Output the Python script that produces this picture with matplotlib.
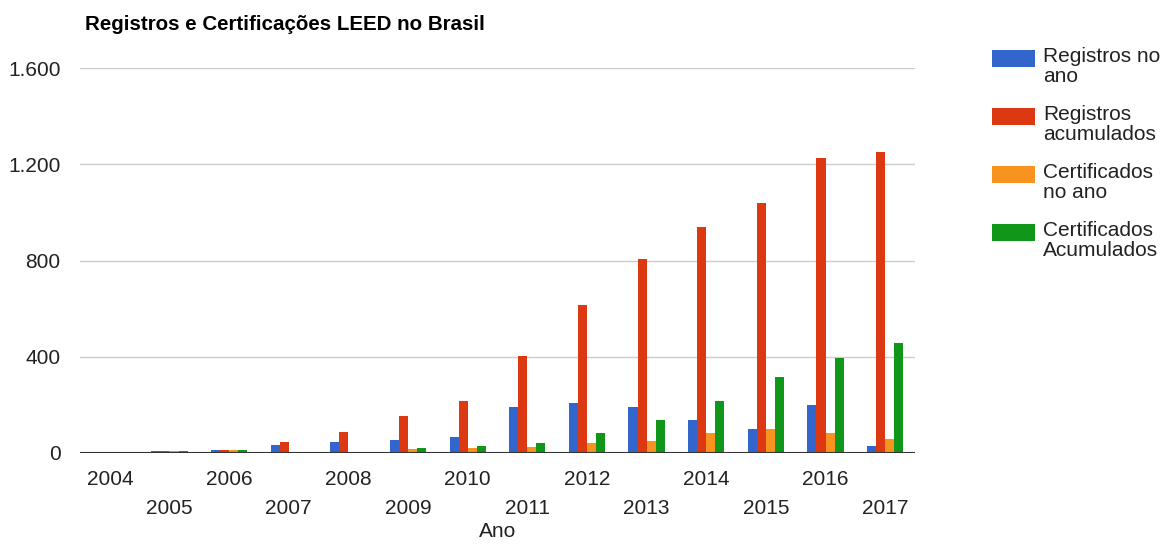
import matplotlib
matplotlib.use("Agg")
import matplotlib.pyplot as plt
from matplotlib.patches import Rectangle
import numpy as np

plt.rcParams['font.family'] = ['Liberation Sans', 'DejaVu Sans']

years = ["2004", "2005", "2006", "2007", "2008", "2009", "2010", "2011",
         "2012", "2013", "2014", "2015", "2016", "2017"]
series_names = ["Registros no\nano", "Registros\nacumulados",
                "Certificados\nno ano", "Certificados\nAcumulados"]
registros_ano = [0, 7, 12, 33, 46, 54, 66, 191, 208, 191, 137, 100, 199, 29]
registros_acum = [0, 7, 12, 46, 87, 154, 216, 403, 615, 806, 939, 1039, 1226, 1251]
certificados_ano = [0, 7, 12, 0, 0, 17, 21, 25, 42, 50, 83, 100, 83, 58]
certificados_acum = [0, 7, 12, 0, 0, 21, 28, 42, 83, 137, 216, 316, 395, 457]
colors = ["#3366CC", "#DC3912", "#F7931E", "#109618"]
yticks = [0, 400, 800, 1200, 1600]
ytick_labels = ["0", "400", "800", "1.200", "1.600"]

W, H = 1161, 544
fs = 15
fig = plt.figure(figsize=(W / 100, H / 100), dpi=100)
ax = fig.add_axes([80 / W, 1 - 453 / H, (915 - 80) / W, (453 - 68) / H])

data = [registros_ano, registros_acum, certificados_ano, certificados_acum]
x = np.arange(len(years))
bw = 0.152
for i, (vals, c) in enumerate(zip(data, colors)):
    ax.bar(x + (i - 1.5) * bw, vals, width=bw, color=c, linewidth=0, zorder=3)

ax.set_xlim(-0.5, len(years) - 0.5)
ax.set_ylim(0, 1600)
ax.set_yticks(yticks)
ax.set_yticklabels(ytick_labels, fontsize=fs, color="#222222")
ax.grid(axis="y", color="#cccccc", linewidth=1, zorder=0)
ax.axhline(0, color="#333333", linewidth=1.5, zorder=4)
for s in ax.spines.values():
    s.set_visible(False)
ax.tick_params(axis="y", length=0, pad=14)
ax.tick_params(axis="x", length=0)

ax.set_xticks(x)
ax.set_xticklabels(years, fontsize=fs, color="#222222")
for i, t in enumerate(ax.xaxis.get_major_ticks()):
    t.set_pad(12 if i % 2 == 0 else 33)
ax.set_xlabel("Ano", fontsize=fs, color="#222222", labelpad=3)

fig.text(85 / W, 1 - 25 / H, "Registros e Certificações LEED no Brasil",
         fontsize=14.8, fontweight="bold", va="center", ha="left", color="#000000")

# legend
for i, (name, c) in enumerate(zip(series_names, colors)):
    ytop = 50 + i * 58
    fig.add_artist(Rectangle((992 / W, 1 - (ytop + 17) / H), 43 / W, 17 / H,
                             transform=fig.transFigure, color=c, linewidth=0))
    fig.text(1043 / W, 1 - (ytop - 3) / H, name, fontsize=fs, va="top", ha="left",
             color="#222222", linespacing=1.07)

fig.savefig("out.png", dpi=100)
